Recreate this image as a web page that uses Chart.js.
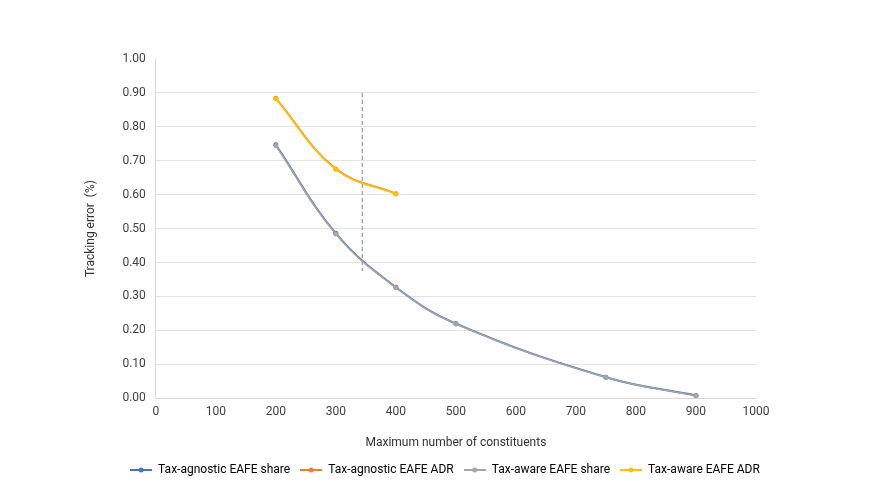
<!DOCTYPE html>
<html>
<head>
<meta charset="utf-8">
<script src="https://cdn.jsdelivr.net/npm/chart.js@4.4.1/dist/chart.umd.min.js"></script>
<style>
html,body{margin:0;padding:0;background:#fff;}
#wrap{width:870px;height:500px;position:relative;}
</style>
</head>
<body>
<div id="wrap"><canvas id="c" width="870" height="500"></canvas></div>
<script>
const constituentsShare = [200, 300, 400, 500, 750, 900];
const constituentsADR = [200, 300, 400];
const taxAgnosticShare = [0.747, 0.486, 0.327, 0.220, 0.062, 0.008];
const taxAgnosticADR = [0.884, 0.676, 0.603];
const taxAwareShare = [0.745, 0.484, 0.326, 0.219, 0.0615, 0.007];
const taxAwareADR = [0.883, 0.675, 0.602];
const cutoffX = [344, 344];
const cutoffY = [0.90, 0.375];
const seriesNames = ["Tax-agnostic EAFE share", "Tax-agnostic EAFE ADR", "Tax-aware EAFE share", "Tax-aware EAFE ADR"];

function pts(xs, ys){ return xs.map((x,i)=>({x:x, y:ys[i]})); }

function legendIcon(color){
  const c = document.createElement('canvas');
  c.width = 22; c.height = 8;
  const g = c.getContext('2d');
  g.strokeStyle = color; g.lineWidth = 2;
  g.beginPath(); g.moveTo(0,4); g.lineTo(22,4); g.stroke();
  g.fillStyle = color;
  g.beginPath(); g.arc(11,4,2.5,0,Math.PI*2); g.fill();
  return c;
}

const colors = ["#4472C4", "#ED7D31", "#A5A5A5", "#FFC000"];
const icons = colors.map(legendIcon);

Chart.defaults.font.family = "Roboto, 'Noto Sans', sans-serif";
Chart.defaults.font.size = 12;
Chart.defaults.color = "#404040";

const mk = (label, data, color, width, order) => ({
  label: label, data: data, borderColor: color, backgroundColor: color,
  borderWidth: width, pointRadius: 2.5, pointHoverRadius: 2.5, pointBorderWidth: 0,
  tension: 0.4, fill: false, pointStyle: 'circle', order: order
});

const legendShift = {
  id: 'legendShift',
  afterLayout(chart) {
    if (chart.legend) { chart.legend.left += 27; chart.legend.right += 27; }
  }
};

new Chart(document.getElementById('c'), {
  type: 'line',
  plugins: [legendShift],
  data: {
    datasets: [
      mk(seriesNames[0], pts(constituentsShare, taxAgnosticShare), colors[0], 2, 4),
      mk(seriesNames[1], pts(constituentsADR, taxAgnosticADR), colors[1], 2, 3),
      mk(seriesNames[2], pts(constituentsShare, taxAwareShare), colors[2], 1.6, 2),
      mk(seriesNames[3], pts(constituentsADR, taxAwareADR), colors[3], 1.6, 1),
      {
        label: 'cutoff', data: pts(cutoffX, cutoffY), borderColor: '#999999', order: 5,
        borderWidth: 1.2, borderDash: [4, 3], pointRadius: 0, tension: 0, fill: false
      }
    ]
  },
  options: {
    responsive: false,
    animation: false,
    devicePixelRatio: 1,
    layout: { padding: { left: 80, right: 114, top: 59, bottom: 14 } },
    plugins: {
      tooltip: { enabled: false },
      legend: {
        position: 'bottom',
        labels: {
          usePointStyle: true,
          pointStyleWidth: 22,
          boxHeight: 8,
          padding: 10,
          color: '#333333',
          font: { size: 12 },
          generateLabels: (chart) => chart.data.datasets.slice(0, 4).map((ds, i) => ({
            text: ds.label, pointStyle: icons[i], datasetIndex: i,
            strokeStyle: ds.borderColor, fillStyle: ds.borderColor, lineWidth: 0, hidden: false
          }))
        }
      }
    },
    scales: {
      x: {
        type: 'linear', min: 0, max: 1000,
        ticks: { stepSize: 100, padding: 7, color: '#404040', callback: v => String(v) },
        grid: { display: false, drawTicks: false },
        border: { display: true, color: '#d9d9d9' },
        title: { display: true, text: 'Maximum number of constituents', color: '#333333', font: { size: 12 }, padding: { top: 9, bottom: 4 } }
      },
      y: {
        min: 0, max: 1,
        ticks: { stepSize: 0.1, padding: 10, color: '#404040', callback: v => Number(v).toFixed(2) },
        grid: { drawTicks: false, color: ctx => (ctx.tick && Math.abs(ctx.tick.value - 1) < 1e-9) ? 'rgba(0,0,0,0)' : '#e3e3e3' },
        border: { display: true, color: '#d9d9d9' },
        title: { display: true, text: 'Tracking error  (%)', color: '#333333', font: { size: 12 }, padding: { bottom: 14 } }
      }
    }
  }
});
</script>
</body>
</html>
